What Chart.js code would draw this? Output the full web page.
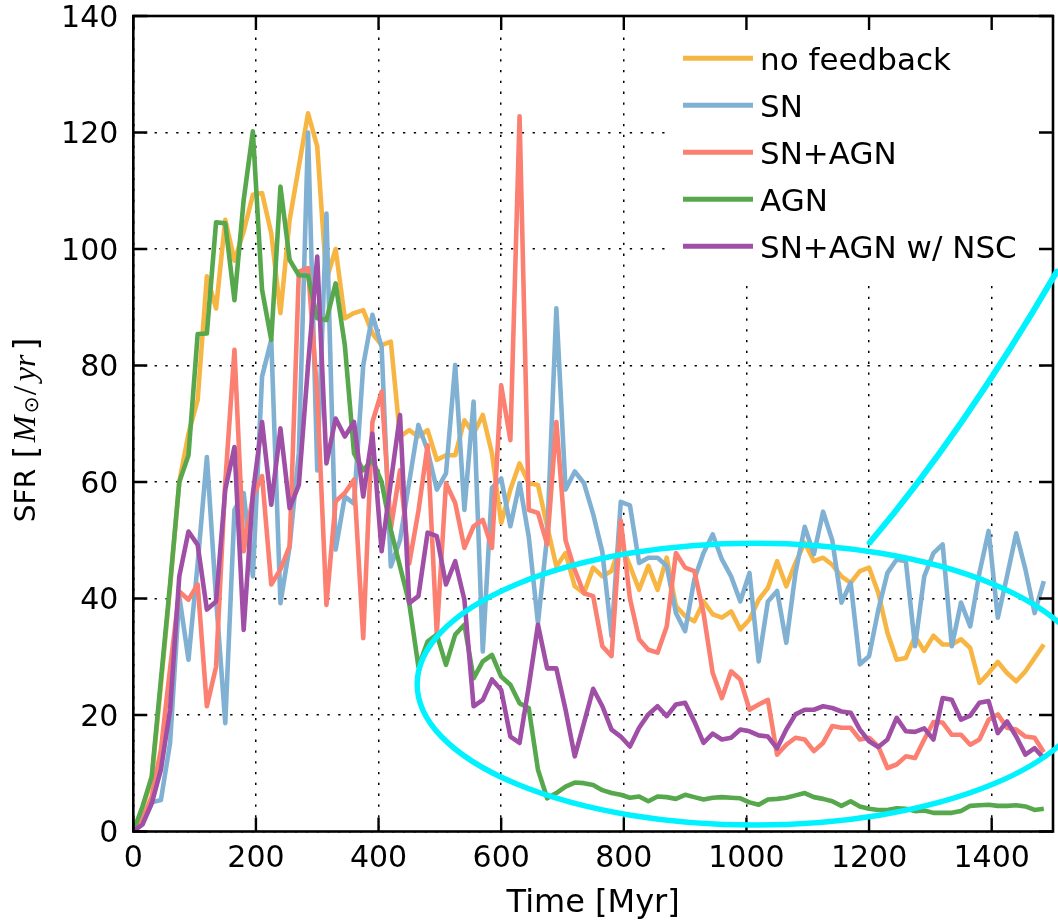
<!DOCTYPE html>
<html>
<head>
<meta charset="utf-8">
<title>SFR</title>
<script src="https://cdn.jsdelivr.net/npm/chart.js@4.4.1/dist/chart.umd.min.js"></script>
<style>
  body { margin: 0; background: #fff; }
  canvas { display: block; }
</style>
</head>
<body>
<canvas id="graph_sfr" width="1058" height="923"></canvas>
<script>
/*------------------------------*/
/*          DONNEES SFR         */
/*------------------------------*/
var times = [0, 15, 30, 45, 60, 75, 90, 105, 120, 135,
  150, 165, 180, 195, 210, 225, 240, 255, 270, 285,
  300, 315, 330, 345, 360, 375, 390, 405, 420, 435,
  450, 465, 480, 495, 510, 525, 540, 555, 570, 585,
  600, 615, 630, 645, 660, 675, 690, 705, 720, 735,
  750, 765, 780, 795, 810, 825, 840, 855, 870, 885,
  900, 915, 930, 945, 960, 975, 990, 1005, 1020, 1035,
  1050, 1065, 1080, 1095, 1110, 1125, 1140, 1155, 1170, 1185,
  1200, 1215, 1230, 1245, 1260, 1275, 1290, 1305, 1320, 1335,
  1350, 1365, 1380, 1395, 1410, 1425, 1440, 1455, 1470, 1485]

var sfr_nofeedback = [0, 4, 9, 25, 42, 60, 68.3, 74.1, 95.3, 89.8,
  105, 98, 103, 109.3, 109.6, 102.7, 89, 105, 114.2, 123.3,
  117.6, 94.7, 100, 88.1, 89, 89.5, 85.5, 83.5, 84.1, 67.8,
  68.9, 67.8, 68.9, 63.8, 64.6, 64.6, 70.6, 68.3, 71.5, 64.9,
  53, 58.7, 63.2, 59.8, 59.5, 52.4, 45.5, 47.8, 42.1, 40.9,
  45.3, 43.8, 44.7, 49.6, 45.6, 41.5, 45.6, 41.5, 47, 38.7,
  37, 36.1, 39.5, 37.3, 36.7, 37.8, 34.7, 36.4, 39.8, 41.8,
  46.4, 42.1, 46.1, 49.6, 46.4, 47, 45.8, 43.8, 42.7, 44.7,
  45.3, 41, 34.1, 29.5, 29.8, 33.5, 31, 33.6, 32.1, 32.1,
  33, 31.5, 25.5, 27.2, 29.1, 27.2, 25.8, 27.5, 29.8, 32.1]

var sfr_sn = [0, 2.5, 5, 5.4, 15.2, 40.4, 29.5, 46, 64.3, 40,
  18.6, 55.2, 58.1, 43.8, 78.1, 84.4, 39.2, 49, 65, 120,
  62, 106.1, 48.4, 57.5, 56.3, 80, 88.7, 83.2, 45.5, 50,
  60, 69.8, 65.4, 58.7, 61.5, 80.1, 55.2, 73.8, 30.9, 59,
  60.6, 52.4, 59.8, 50.6, 35.8, 50.7, 89.8, 58.7, 61.8, 59.8,
  54.5, 48, 33.5, 56.6, 56, 46.1, 47, 47, 45.6, 37.5,
  34.4, 43.3, 47.8, 51, 46.7, 43.8, 39.5, 44.4, 29.2, 39.5,
  41.3, 32.4, 44.4, 52.3, 47.6, 54.9, 50, 39.3, 42.7, 28.7,
  30.1, 38, 44.4, 46.7, 46.4, 31.8, 43.8, 47.8, 49.3, 31.8,
  39.3, 35.2, 44.4, 51.6, 36.7, 43.8, 51.2, 45, 37.5, 43]

var sfr_sn_agn = [0, 2, 6, 14, 28, 41.2, 39.8, 42.4, 21.5, 28.3,
  60, 82.7, 48.1, 57.5, 61, 42.4, 45, 49, 96.1, 96.7,
  75, 38.9, 56.7, 58.1, 60.4, 33.2, 70.3, 75.5, 52, 62,
  46, 55, 66.3, 33.9, 59.8, 56.4, 48.7, 52.4, 53.5, 48.7,
  76.6, 67.2, 122.8, 55.2, 54.7, 49.3, 70.3, 50, 44.9, 40.9,
  40.4, 31.8, 30.1, 53.4, 40, 33, 31.2, 30.7, 35.2, 47.8,
  45.3, 44.7, 37.5, 27.2, 22.9, 27.5, 26.1, 20.9, 21.8, 22.6,
  13.2, 14.9, 16.1, 15.8, 13.8, 15.2, 18.1, 17.8, 17.8, 15.8,
  16.1, 14.6, 10.9, 11.5, 12.9, 12.6, 15.8, 18.8, 18.7, 16.6,
  16.6, 14.9, 15.8, 19.2, 20.1, 17.8, 17.5, 16.3, 16.1, 13.6]

var sfr_agn = [0, 4.3, 9.4, 26, 42.5, 60, 64.6, 85.4, 85.5, 104.6,
  104.4, 91.2, 108.4, 120.2, 93, 84.4, 110.7, 98.1, 95.5, 95.4,
  88.1, 87.8, 94.1, 83.5, 64.9, 62, 63.8, 60, 51.8, 45.5,
  39.2, 28.3, 32.6, 33.8, 28.6, 33.8, 35.5, 26.3, 29.2, 30.3,
  26.6, 25.2, 22, 21.2, 10.6, 5.7, 6.6, 7.7, 8.4, 8.3,
  8, 7.1, 6.6, 6.3, 5.8, 6, 5.2, 6, 5.9, 5.6,
  6.3, 5.9, 5.5, 5.8, 5.9, 5.8, 5.7, 5, 4.6, 5.5,
  5.6, 5.8, 6.2, 6.6, 5.9, 5.6, 5.2, 4.4, 5.2, 4.3,
  3.9, 3.7, 3.7, 4, 3.9, 3.5, 3.6, 3.2, 3.2, 3.2,
  3.5, 4.4, 4.5, 4.6, 4.4, 4.4, 4.5, 4.3, 3.7, 3.9]

var sfr_nsc = [0, 1.2, 4.8, 10.6, 20.9, 43.8, 51.5, 49.2, 38.1, 39.5,
  58.7, 66, 34.6, 58, 70.3, 56.1, 69.2, 55.5, 59.5, 80,
  98.7, 63.2, 70.9, 67.8, 70.3, 57.5, 68.3, 48.1, 60, 71.5,
  39.2, 40.4, 51.3, 50.7, 42.4, 46.4, 39.8, 21.5, 22.6, 26.1,
  24.3, 16.3, 15.2, 24.9, 35.5, 28, 28, 20.9, 12.9, 18.6,
  24.5, 21.5, 17.5, 16.3, 14.6, 17.8, 20.1, 21.5, 19.8, 21.8,
  22.1, 18.9, 15.2, 16.8, 15.8, 16.1, 17.5, 17.2, 16.5, 16.3,
  14.3, 17.5, 20.1, 20.9, 20.9, 21.5, 21.2, 20.6, 20.4, 17.5,
  15.5, 14.5, 15.8, 19.5, 17.2, 17.1, 17.7, 15.8, 22.9, 22.6,
  19.2, 19.9, 22.1, 22.4, 16.9, 18.9, 16.3, 13.2, 14.3, 12.6]

var seriesNames = ['no feedback', 'SN', 'SN+AGN', 'AGN', 'SN+AGN w/ NSC']
var xTicks = [0, 200, 400, 600, 800, 1000, 1200, 1400]
var yTicks = [0, 20, 40, 60, 80, 100, 120, 140]

// cyan hand marks, in data units (Myr, Msun/yr)
var ringCenter = [1014, 25.3]
var ringRadius = [551, 24.2]
var strokePath = [[1201, 49.6], [1353, 68.5], [1506, 96.1]]

/*------------------------------*/
/*          GRAPHIQUE SFR       */
/*------------------------------*/
var ctx_sfr = document.getElementById('graph_sfr').getContext('2d')

function points(values) {
  return values.map(function (v, k) { return { x: times[k], y: v } })
}

function serie(label, values, color, order) {
  return {
    label: label,
    data: points(values),
    borderColor: color,
    backgroundColor: color,
    borderWidth: 4.6,
    borderJoinStyle: 'round',
    pointRadius: 0,
    tension: 0,
    fill: false,
    order: order
  }
}

var data_sfr = {
  datasets: [
    serie(seriesNames[0], sfr_nofeedback, '#F7B643', 5),
    serie(seriesNames[1], sfr_sn, '#80B1D3', 4),
    serie(seriesNames[2], sfr_sn_agn, '#FB8072', 3),
    serie(seriesNames[3], sfr_agn, '#57A84D', 2),
    serie(seriesNames[4], sfr_nsc, '#A04FA6', 1)
  ]
}

// frame, inward ticks, labels, legend and the cyan marks
var habillage = {
  id: 'habillage',
  beforeDatasetsDraw: function (chart) {
    var c = chart.ctx, a = chart.chartArea
    c.save()
    c.fillStyle = '#fff'
    c.fillRect(a.right - 385, a.top, 385, 269)
    c.font = '31px "DejaVu Sans"'
    c.textBaseline = 'alphabetic'
    c.textAlign = 'left'
    chart.data.datasets.forEach(function (ds, k) {
      var yy = a.top + 42.3 + 47 * k
      c.strokeStyle = ds.borderColor
      c.lineWidth = 5
      c.beginPath()
      c.moveTo(a.right - 370, yy)
      c.lineTo(a.right - 300, yy)
      c.stroke()
      c.fillStyle = '#000'
      c.fillText(ds.label, a.right - 293, yy + 11.3)
    })
    c.restore()
  },
  afterDatasetsDraw: function (chart) {
    var c = chart.ctx, a = chart.chartArea
    var sx = chart.scales.x, sy = chart.scales.y
    c.save()
    c.strokeStyle = '#000'
    c.lineWidth = 2.6
    c.strokeRect(a.left, a.top, a.right - a.left, a.bottom - a.top)

    c.lineWidth = 2.4
    c.beginPath()
    xTicks.forEach(function (v) {
      var px = sx.getPixelForValue(v)
      c.moveTo(px, a.bottom); c.lineTo(px, a.bottom - 14)
      c.moveTo(px, a.top); c.lineTo(px, a.top + 14)
    })
    yTicks.forEach(function (v) {
      var py = sy.getPixelForValue(v)
      c.moveTo(a.left, py); c.lineTo(a.left + 14, py)
      c.moveTo(a.right, py); c.lineTo(a.right - 14, py)
    })
    c.stroke()

    c.fillStyle = '#000'
    c.textBaseline = 'alphabetic'
    c.font = '30px "DejaVu Sans"'
    c.textAlign = 'center'
    xTicks.forEach(function (v) {
      c.fillText(String(v), sx.getPixelForValue(v), a.bottom + 35)
    })
    c.textAlign = 'right'
    yTicks.forEach(function (v) {
      c.fillText(String(v), a.left - 15, sy.getPixelForValue(v) + 10.7)
    })
    c.textAlign = 'center'
    c.font = '32px "DejaVu Sans"'
    c.fillText('Time [Myr]', (a.left + a.right) / 2, a.bottom + 80)

    // y title : SFR [M_sun / yr], rotated
    c.save()
    c.translate(a.left - 98.3, (a.top + a.bottom) / 2 + 98.5)
    c.rotate(-Math.PI / 2)
    c.textAlign = 'left'
    c.font = '28px "DejaVu Sans"'
    c.fillText('SFR', 0, 0)
    c.font = '32px "DejaVu Sans"'
    c.fillText('[', 64, 1)
    c.font = 'italic 32px "Liberation Serif"'
    c.fillText('M', 80, 0)
    c.font = '20px "DejaVu Sans"'
    c.fillText('\u2299', 109, 3)
    c.font = '34px "Liberation Serif"'
    c.fillText('/', 127, 1)
    c.font = 'italic 32px "Liberation Serif"'
    c.fillText('yr', 141, 0)
    c.font = '32px "DejaVu Sans"'
    c.fillText(']', 172, 1)
    c.restore()

    // cyan ellipse + stroke
    c.strokeStyle = '#00F2FF'
    c.lineCap = 'round'
    c.lineWidth = 5.5
    var cx = sx.getPixelForValue(ringCenter[0])
    var cy = sy.getPixelForValue(ringCenter[1])
    var rx = sx.getPixelForValue(ringCenter[0] + ringRadius[0]) - cx
    var ry = cy - sy.getPixelForValue(ringCenter[1] + ringRadius[1])
    c.beginPath()
    c.ellipse(cx, cy, rx, ry, 0, 0, 2 * Math.PI)
    c.stroke()
    c.lineWidth = 6
    c.beginPath()
    c.moveTo(sx.getPixelForValue(strokePath[0][0]), sy.getPixelForValue(strokePath[0][1]))
    c.quadraticCurveTo(sx.getPixelForValue(strokePath[1][0]), sy.getPixelForValue(strokePath[1][1]),
      sx.getPixelForValue(strokePath[2][0]), sy.getPixelForValue(strokePath[2][1]))
    c.stroke()
    c.restore()
  }
}

var axe = function (min, max, ticksList) {
  return {
    type: 'linear',
    min: min,
    max: max,
    afterBuildTicks: function (scale) {
      scale.ticks = ticksList.map(function (v) { return { value: v } })
    },
    ticks: { display: false },
    grid: { color: '#000', lineWidth: 1.5, drawTicks: false },
    border: { display: false, dash: [2.3, 8.5] }
  }
}

var config_sfr = {
  type: 'line',
  data: data_sfr,
  options: {
    responsive: false,
    animation: false,
    devicePixelRatio: 1,
    layout: { padding: { left: 133.3, right: 5, top: 16, bottom: 91.5 } },
    scales: {
      x: axe(0, 1500, xTicks),
      y: axe(0, 140, yTicks)
    },
    plugins: {
      legend: { display: false },
      tooltip: { enabled: false }
    }
  },
  plugins: [habillage]
}
var graph_sfr = new Chart(ctx_sfr, config_sfr)
/*------------------------------*/
/*------------------------------*/
</script>
</body>
</html>
